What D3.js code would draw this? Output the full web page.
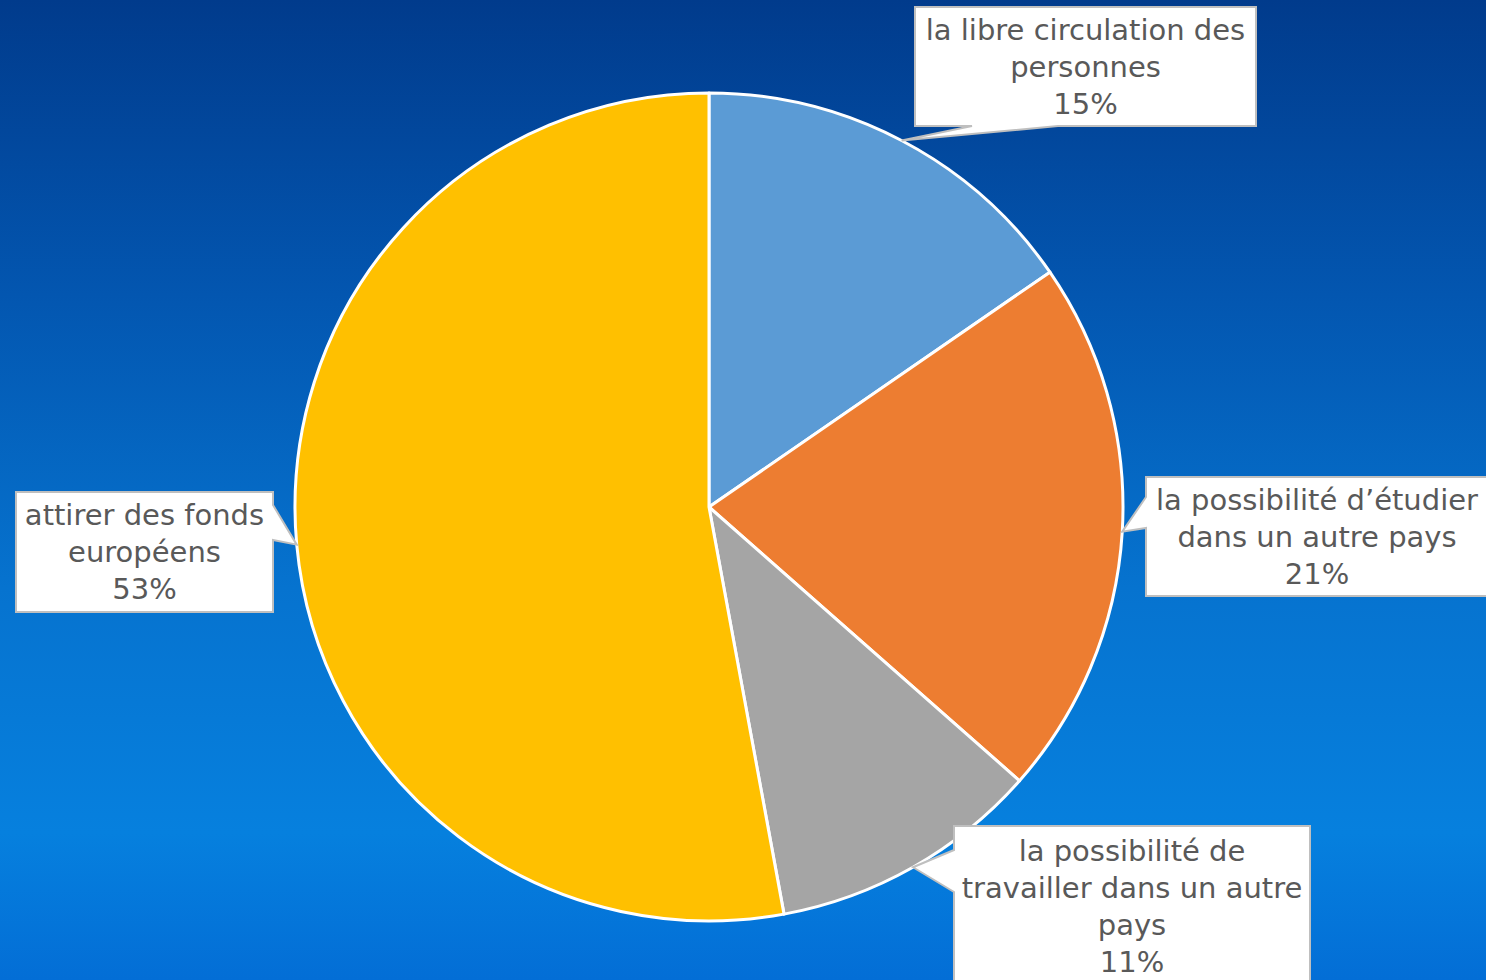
<!DOCTYPE html>
<html>
<head>
<meta charset="utf-8">
<script src="https://cdn.jsdelivr.net/npm/d3@7"></script>
<style>
  html, body { margin: 0; padding: 0; overflow: hidden; }
  svg { display: block; }
</style>
</head>
<body>
<div id="chart"></div>
<script>
// data (shares; labels show them rounded)
var categories = [
  "la libre circulation des personnes",
  "la possibilité d’étudier dans un autre pays",
  "la possibilité de travailler dans un autre pays",
  "attirer des fonds européens"
];
var values = [15.4, 21.1, 10.6, 52.9];
var labelLines = [
  ["la libre circulation des", "personnes"],
  ["la possibilité d’étudier", "dans un autre pays"],
  ["la possibilité de", "travailler dans un autre", "pays"],
  ["attirer des fonds", "européens"]
];
var colors = ["#5b9bd5", "#ed7d31", "#a5a5a5", "#ffc000"];

var w = 1486, h = 980;
var cx = 709, cy = 507, r = 414;

// callout boxes: x, y, width, height, side the pointer leaves from, pointer base (a -> b along the side)
var boxes = [
  {x: 915, y: 7, w: 341, h: 119, side: "bottom", a: 1058, b: 972},
  {x: 1146, y: 477, w: 342, h: 119, side: "left", a: 528, b: 497},
  {x: 954, y: 826, w: 356, h: 170, side: "left", a: 892, b: 850},
  {x: 16, y: 492, w: 257, h: 120, side: "right", a: 505, b: 540}
];

var svg = d3.select("#chart").append("svg")
  .attr("width", w)
  .attr("height", h);

var defs = svg.append("defs");
var grad = defs.append("linearGradient")
  .attr("id", "bg")
  .attr("x1", 0).attr("y1", 0).attr("x2", 0).attr("y2", 1);
grad.append("stop").attr("offset", "0%").attr("stop-color", "#013b8c");
grad.append("stop").attr("offset", "30%").attr("stop-color", "#0356b0");
grad.append("stop").attr("offset", "60%").attr("stop-color", "#0673cf");
grad.append("stop").attr("offset", "85%").attr("stop-color", "#0680de");
grad.append("stop").attr("offset", "100%").attr("stop-color", "#036ed6");

svg.append("rect")
  .attr("width", w)
  .attr("height", h)
  .attr("fill", "url(#bg)");

var pie = d3.pie().sort(null).value(function (d) { return d; });
var arcs = pie(values);
var arc = d3.arc().innerRadius(0).outerRadius(r);

var g = svg.append("g").attr("transform", "translate(" + cx + "," + cy + ")");

g.selectAll("path")
  .data(arcs)
  .enter()
  .append("path")
  .attr("d", arc)
  .attr("fill", function (d, i) { return colors[i]; })
  .attr("stroke", "#ffffff")
  .attr("stroke-width", 3)
  .attr("stroke-linejoin", "round");

// callout shape: rectangle with a wedge pointing at the slice edge
function calloutPath(b, tip) {
  var x0 = b.x, y0 = b.y, x1 = b.x + b.w, y1 = b.y + b.h;
  var p = d3.path();
  p.moveTo(x0, y0);
  p.lineTo(x1, y0);
  if (b.side === "right") {
    p.lineTo(x1, b.a);
    p.lineTo(tip[0], tip[1]);
    p.lineTo(x1, b.b);
  }
  p.lineTo(x1, y1);
  if (b.side === "bottom") {
    p.lineTo(b.a, y1);
    p.lineTo(tip[0], tip[1]);
    p.lineTo(b.b, y1);
  }
  p.lineTo(x0, y1);
  if (b.side === "left") {
    p.lineTo(x0, b.a);
    p.lineTo(tip[0], tip[1]);
    p.lineTo(x0, b.b);
  }
  p.closePath();
  return p.toString();
}

var labels = svg.selectAll("g.label")
  .data(arcs)
  .enter()
  .append("g")
  .attr("class", "label");

labels.append("path")
  .attr("d", function (d, i) {
    var mid = (d.startAngle + d.endAngle) / 2;
    var tip = [cx + r * Math.sin(mid), cy - r * Math.cos(mid)];
    return calloutPath(boxes[i], tip);
  })
  .attr("fill", "#ffffff")
  .attr("stroke", "#bfbfbf")
  .attr("stroke-width", 2);

var lineH = 37;
labels.each(function (d, i) {
  var b = boxes[i];
  var lines = labelLines[i].concat([Math.round(d.data) + "%"]);
  var t = d3.select(this).append("text")
    .attr("text-anchor", "middle")
    .attr("font-family", "'DejaVu Sans', sans-serif")
    .attr("font-size", "29px")
    .attr("fill", "#595959");
  lines.forEach(function (s, k) {
    t.append("tspan")
      .attr("x", b.x + b.w / 2)
      .attr("y", b.y + (i === 2 ? 35 : 33) + k * lineH)
      .text(s);
  });
});
</script>
</body>
</html>
